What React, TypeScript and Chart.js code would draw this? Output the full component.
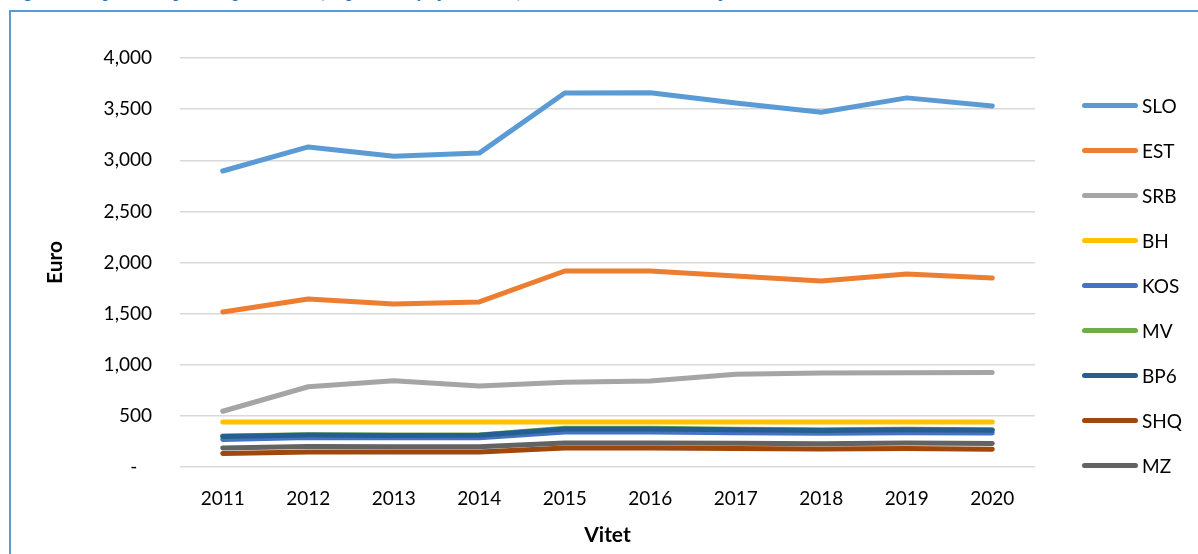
import React, { useEffect, useRef } from "react";
import { Chart, registerables } from "chart.js";

Chart.register(...registerables);

const years = ["2011", "2012", "2013", "2014", "2015", "2016", "2017", "2018", "2019", "2020"];

const SLO = [2895, 3130, 3040, 3070, 3658, 3660, 3560, 3470, 3610, 3530];
const EST = [1516, 1643, 1594, 1614, 1917, 1917, 1868, 1819, 1887, 1848];
const SRB = [545, 785, 844, 792, 828, 841, 907, 919, 922, 925];
const BH = [440, 440, 440, 440, 440, 440, 440, 440, 440, 440];
const KOS = [269, 288, 285, 287, 342, 342, 336, 330, 336, 332];
const MV = [302, 316, 312, 314, 378, 378, 370, 364, 370, 365];
const BP6 = [298, 312, 308, 310, 372, 372, 365, 358, 365, 360];
const SHQ = [132, 147, 147, 147, 186, 186, 180, 176, 180, 173];
const MZ = [186, 200, 198, 198, 235, 235, 232, 228, 234, 230];

const seriesNames = ["SLO", "EST", "SRB", "BH", "KOS", "MV", "BP6", "SHQ", "MZ"];
const seriesValues = [SLO, EST, SRB, BH, KOS, MV, BP6, SHQ, MZ];
const seriesColors = ["#5B9BD5", "#ED7D31", "#A5A5A5", "#FFC000", "#4472C4", "#70AD47", "#255E91", "#9E480E", "#636363"];

const yTicks = [0, 500, 1000, 1500, 2000, 2500, 3000, 3500, 4000];

const FONT = "Lato, 'Open Sans', sans-serif";

export default function App() {
  const ref = useRef<HTMLCanvasElement | null>(null);

  useEffect(() => {
    if (!ref.current) return;
    const chart = new Chart(ref.current, {
      type: "line",
      data: {
        labels: years,
        datasets: seriesNames.map((name, i) => ({
          label: name,
          data: seriesValues[i],
          borderColor: seriesColors[i],
          backgroundColor: seriesColors[i],
          borderWidth: 5,
          borderCapStyle: "round" as const,
          borderJoinStyle: "round" as const,
          pointRadius: 0,
          tension: 0,
          fill: false,
          order: seriesNames.length - i,
        })),
      },
      options: {
        responsive: false,
        animation: false,
        layout: { padding: { top: 58, right: 163, left: 0, bottom: 0 } },
        plugins: { legend: { display: false }, tooltip: { enabled: false } },
        scales: {
          x: {
            offset: true,
            grid: { display: false, drawTicks: false },
            border: { display: false },
            ticks: { color: "#000", font: { family: FONT, size: 19 }, padding: 20, maxRotation: 0 },
            title: { display: true, text: "Vitet", color: "#000", font: { family: FONT, size: 21, weight: "bold" }, padding: { top: 0, bottom: 6 } },
            afterFit: (s: any) => { s.height = 87; },
          },
          y: {
            min: 0,
            max: 4000,
            afterBuildTicks: (s: any) => { s.ticks = yTicks.map((v) => ({ value: v })); },
            grid: { color: "#D9D9D9", lineWidth: 1.5, drawTicks: false },
            border: { display: false },
            ticks: {
              color: "#000",
              font: { family: FONT, size: 19 },
              padding: 28,
              callback: (v: any) => (Number(v) === 0 ? "-   " : Number(v).toLocaleString("en-US")),
            },
            title: { display: true, text: "Euro", color: "#000", font: { family: FONT, size: 21, weight: "bold" }, padding: { top: 43, bottom: 0 } },
            afterFit: (s: any) => { s.width = 180; },
          },
        },
      },
    });
    return () => chart.destroy();
  }, []);

  return (
    <div style={{ position: "fixed", left: 0, top: 0, width: 1198, height: 554, overflow: "hidden", background: "#fff" }}>
      <div
        style={{
          position: "absolute",
          left: 8,
          top: -18,
          whiteSpace: "nowrap",
          fontFamily: "'Liberation Serif', serif",
          fontStyle: "italic",
          fontWeight: "bold",
          fontSize: 18,
          lineHeight: "18px",
          color: "#2E74B5",
        }}
      >
        Figura 9: Shpenzimet publike për nxënës (në paritet të fuqisë blerëse), krahasimi me vendet e rajonit
      </div>
      <div
        style={{
          position: "absolute",
          left: 9,
          top: 10,
          width: 1300,
          height: 700,
          borderLeft: "2px solid #5B9BD5",
          borderTop: "2px solid #5B9BD5",
        }}
      />
      <canvas ref={ref} width={1198} height={554} style={{ position: "absolute", left: 0, top: 0, width: 1198, height: 554 }} />
      {seriesNames.map((name, i) => (
        <div key={name} style={{ position: "absolute", left: 1082, top: 105 + i * 45 - 12, height: 24, display: "flex", alignItems: "center" }}>
          <div style={{ width: 56, height: 5, borderRadius: 3, background: seriesColors[i] }} />
          <span style={{ marginLeft: 4, fontFamily: FONT, fontSize: 19, color: "#000" }}>{name}</span>
        </div>
      ))}
    </div>
  );
}
